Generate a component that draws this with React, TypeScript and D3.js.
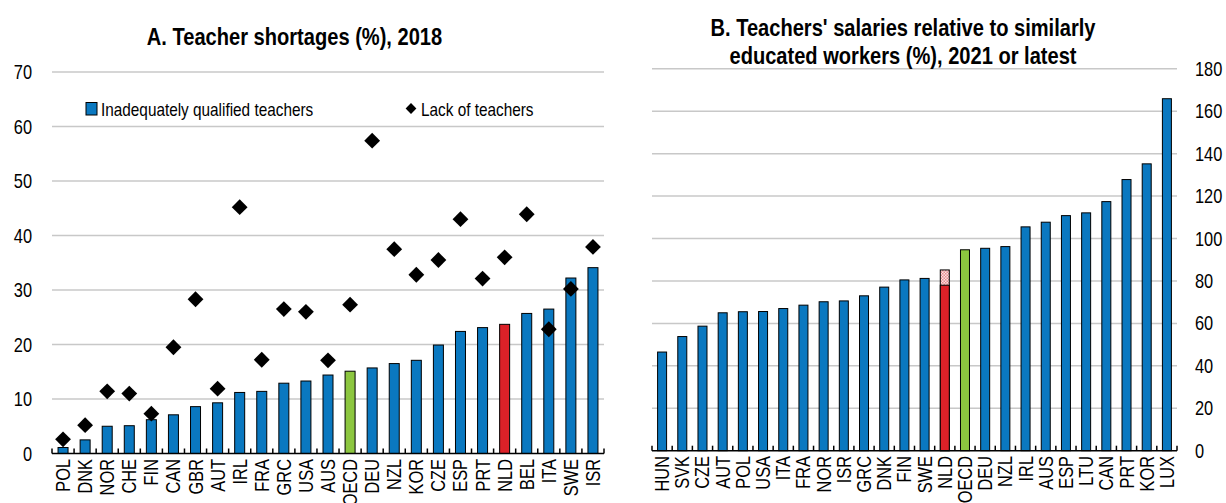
import * as d3 from "d3";
import { useEffect, useRef } from "react";

// Panel A: teacher shortages (%), 2018
const catsA = ["POL", "DNK", "NOR", "CHE", "FIN", "CAN", "GBR", "AUT", "IRL", "FRA", "GRC", "USA", "AUS",
  "OECD", "DEU", "NZL", "KOR", "CZE", "ESP", "PRT", "NLD", "BEL", "ITA", "SWE", "ISR"];
const qualifiedA = [1.1, 2.5, 5.0, 5.1, 6.2, 7.1, 8.6, 9.3, 11.2, 11.4, 12.9, 13.3, 14.4,
  15.1, 15.7, 16.5, 17.1, 19.9, 22.4, 23.1, 23.7, 25.7, 26.5, 32.2, 34.1];
const lackA = [2.6, 5.2, 11.4, 11.0, 7.3, 19.5, 28.3, 11.9, 45.2, 17.2, 26.5, 26.0, 17.1,
  27.3, 57.4, 37.5, 32.8, 35.5, 43.0, 32.1, 36.0, 43.9, 22.8, 30.2, 37.9];
const ticksA = [0, 10, 20, 30, 40, 50, 60, 70];

// Panel B: salaries relative to similarly educated workers (%)
const catsB = ["HUN", "SVK", "CZE", "AUT", "POL", "USA", "ITA", "FRA", "NOR", "ISR", "GRC", "DNK", "FIN",
  "SWE", "NLD", "OECD", "DEU", "NZL", "IRL", "AUS", "ESP", "LTU", "CAN", "PRT", "KOR", "LUX"];
const salaryB = [46.5, 53.8, 58.7, 65.0, 65.5, 65.6, 67.0, 68.6, 70.2, 70.6, 73.0, 77.1, 80.5,
  81.2, 78.0, 94.7, 95.4, 96.2, 105.5, 107.7, 110.8, 112.1, 117.4, 127.8, 135.2, 165.9];
const nldUpper = 85.2; // NLD upper estimate (hatched part)
const ticksB = [0, 20, 40, 60, 80, 100, 120, 140, 160, 180];

const BLUE = "#0a78c0";
const RED = "#dc2128";
const GREEN = "#8cc63f";
const GRID = "#c8c8c8";
const FONT = "'Liberation Sans', Arial, sans-serif";
const SX = 0.82; // narrow font look

const barColor = (c) => (c === "NLD" ? RED : c === "OECD" ? GREEN : BLUE);

export default function App() {
  const svgRef = useRef(null);

  useEffect(() => {
    const svg = d3.select(svgRef.current);
    svg.selectAll("*").remove();

    const defs = svg.append("defs");
    const pat = defs.append("pattern")
      .attr("id", "nld-hatch")
      .attr("width", 3).attr("height", 3)
      .attr("patternUnits", "userSpaceOnUse");
    pat.append("rect").attr("width", 3).attr("height", 3).attr("fill", "#fbe3e3");
    pat.append("rect").attr("width", 1.5).attr("height", 1.5).attr("fill", "#e88a8d");
    pat.append("rect").attr("x", 1.5).attr("y", 1.5).attr("width", 1.5).attr("height", 1.5).attr("fill", "#e88a8d");

    const narrowText = (g, x, y, txt, size, anchor, weight = "normal", rotate = false) =>
      g.append("text")
        .attr("transform", `translate(${x},${y})${rotate ? " rotate(-90)" : ""} scale(${SX},1)`)
        .attr("text-anchor", anchor)
        .style("font-family", FONT)
        .style("font-size", `${size}px`)
        .style("font-weight", weight)
        .style("fill", "#000")
        .text(txt);

    // ── Panel A ──
    const xA = d3.scaleBand().domain(catsA).range([52, 604]);
    const yA = d3.scaleLinear().domain([0, 70]).range([453.5, 72]);
    const gA = svg.append("g");

    gA.selectAll(".grid").data(ticksA.filter((t) => t > 0)).enter().append("line")
      .attr("x1", 52).attr("x2", 604)
      .attr("y1", (d) => yA(d)).attr("y2", (d) => yA(d))
      .attr("stroke", GRID).attr("stroke-width", 1.5);

    ticksA.forEach((t) => narrowText(gA, 32, yA(t) + 7, String(t), 20, "end"));

    const bwA = 10;
    gA.selectAll(".bar").data(catsA).enter().append("rect")
      .attr("x", (d) => xA(d) + xA.bandwidth() / 2 - bwA / 2)
      .attr("y", (d, i) => yA(qualifiedA[i]))
      .attr("width", bwA)
      .attr("height", (d, i) => yA(0) - yA(qualifiedA[i]))
      .attr("fill", (d) => barColor(d))
      .attr("stroke", "#000").attr("stroke-width", 1);

    const diamond = d3.symbol(d3.symbolSquare, 125);
    gA.selectAll(".dia").data(catsA).enter().append("path")
      .attr("d", diamond())
      .attr("transform", (d, i) => `translate(${xA(d) + xA.bandwidth() / 2},${yA(lackA[i])}) rotate(45)`)
      .attr("fill", "#000");

    // axis
    gA.append("line").attr("x1", 52).attr("x2", 604).attr("y1", yA(0)).attr("y2", yA(0))
      .attr("stroke", "#000").attr("stroke-width", 1.5);
    gA.selectAll(".tick").data(d3.range(catsA.length + 1)).enter().append("line")
      .attr("x1", (i) => 52 + i * xA.step()).attr("x2", (i) => 52 + i * xA.step())
      .attr("y1", yA(0)).attr("y2", yA(0) - 5)
      .attr("stroke", "#000").attr("stroke-width", 1.5);
    catsA.forEach((c) => narrowText(gA, xA(c) + xA.bandwidth() / 2 + 7, 459, c, 20, "end", "normal", true));

    narrowText(gA, 294.5, 45, "A. Teacher shortages (%), 2018", 24.5, "middle", "bold");

    // legend
    gA.append("rect").attr("x", 86).attr("y", 102.5).attr("width", 11).attr("height", 12.5)
      .attr("fill", BLUE).attr("stroke", "#000").attr("stroke-width", 1);
    narrowText(gA, 101, 116, "Inadequately qualified teachers", 18.7, "start");
    gA.append("path").attr("d", d3.symbol(d3.symbolSquare, 58)())
      .attr("transform", "translate(411,108.5) rotate(45)").attr("fill", "#000");
    narrowText(gA, 421, 116, "Lack of teachers", 18.7, "start");

    // ── Panel B ──
    const xB = d3.scaleBand().domain(catsB).range([652, 1177]);
    const yB = d3.scaleLinear().domain([0, 180]).range([450.7, 68.8]);
    const gB = svg.append("g");

    gB.selectAll(".grid").data(ticksB.filter((t) => t > 0)).enter().append("line")
      .attr("x1", 652).attr("x2", 1177)
      .attr("y1", (d) => yB(d)).attr("y2", (d) => yB(d))
      .attr("stroke", GRID).attr("stroke-width", 1.5);

    ticksB.forEach((t) => narrowText(gB, 1195, yB(t) + 7, String(t), 20, "start"));

    const bwB = 9;
    gB.append("rect")
      .attr("x", xB("NLD") + xB.bandwidth() / 2 - bwB / 2)
      .attr("y", yB(nldUpper))
      .attr("width", bwB)
      .attr("height", yB(0) - yB(nldUpper))
      .attr("fill", "url(#nld-hatch)")
      .attr("stroke", "#000").attr("stroke-width", 1);
    gB.selectAll(".bar").data(catsB).enter().append("rect")
      .attr("x", (d) => xB(d) + xB.bandwidth() / 2 - bwB / 2)
      .attr("y", (d, i) => yB(salaryB[i]))
      .attr("width", bwB)
      .attr("height", (d, i) => yB(0) - yB(salaryB[i]))
      .attr("fill", (d) => barColor(d))
      .attr("stroke", "#000").attr("stroke-width", 1);

    gB.append("line").attr("x1", 652).attr("x2", 1177).attr("y1", yB(0)).attr("y2", yB(0))
      .attr("stroke", "#000").attr("stroke-width", 1.5);
    gB.selectAll(".tick").data(d3.range(catsB.length + 1)).enter().append("line")
      .attr("x1", (i) => 652 + i * xB.step()).attr("x2", (i) => 652 + i * xB.step())
      .attr("y1", yB(0)).attr("y2", yB(0) - 5)
      .attr("stroke", "#000").attr("stroke-width", 1.5);
    catsB.forEach((c) => narrowText(gB, xB(c) + xB.bandwidth() / 2 + 7, 456, c, 20, "end", "normal", true));

    narrowText(gB, 903, 36, "B. Teachers' salaries relative to similarly", 24.5, "middle", "bold");
    narrowText(gB, 903, 64, "educated workers (%), 2021 or latest", 24.5, "middle", "bold");
  }, []);

  return (
    <div style={{ position: "absolute", left: 0, top: 0 }}>
      <svg ref={svgRef} width={1226} height={503} style={{ display: "block", background: "#fff" }}></svg>
    </div>
  );
}
